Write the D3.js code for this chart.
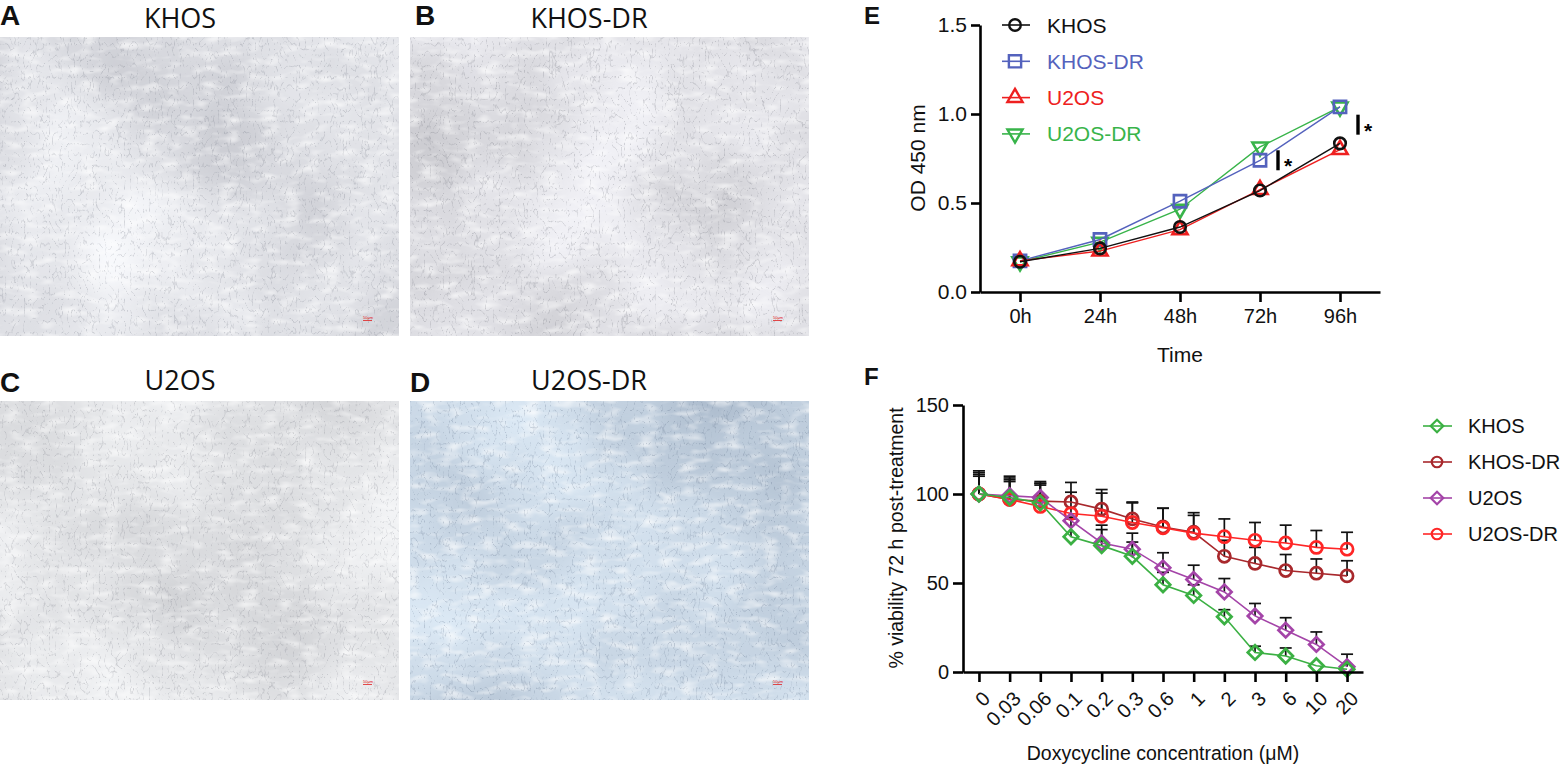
<!DOCTYPE html>
<html><head><meta charset="utf-8">
<script src="https://cdn.jsdelivr.net/npm/d3@7"></script>
<style>
html,body{margin:0;padding:0;background:#fff;}
svg{display:block;}
text{font-family:"Liberation Sans",Arial,sans-serif;}
</style></head>
<body>
<script>
// ---------- DATA ----------
const panelTitles = ["KHOS","KHOS-DR","U2OS","U2OS-DR"];
const panelLetters = ["A","B","C","D"];

const eTimes = ["0h","24h","48h","72h","96h"];
const eSeriesNames = ["KHOS","KHOS-DR","U2OS","U2OS-DR"];
const eKHOS   = [0.17, 0.245, 0.365, 0.57, 0.835];
const eKHOSDR = [0.175, 0.295, 0.51, 0.74, 1.04];
const eU2OS   = [0.175, 0.23, 0.35, 0.575, 0.80];
const eU2OSDR = [0.17, 0.28, 0.465, 0.815, 1.04];
const eYTicks = [0, 0.5, 1.0, 1.5];
const eSigTimes = ["72h","96h"];
const eSigLevel = [0.74, 0.94];   // vertical centre of the significance bars

const fConc = ["0","0.03","0.06","0.1","0.2","0.3","0.6","1","2","3","6","10","20"];
const fSeriesNames = ["KHOS","KHOS-DR","U2OS","U2OS-DR"];
const fKHOS      = [100, 98, 95, 76, 71, 65, 49, 43, 31, 11, 9, 3.5, 1.5];
const fKHOSErr   = [11, 9, 10, 10, 9, 8, 7, 6, 4, 3.5, 4.5, 0, 0];
const fKHOSDR    = [100, 97, 96, 95.5, 91.5, 86, 81.5, 78.5, 65, 61, 57, 55.5, 54];
const fKHOSDRErr = [13, 11, 11, 11, 11, 9.5, 10.5, 11, 9, 9, 9, 8, 8.5];
const fU2OS      = [100, 99, 98, 85, 72.5, 69, 58.5, 52, 45, 31.5, 23.5, 15.5, 3];
const fU2OSErr   = [12, 11, 8, 2, 10, 9, 8.5, 8, 7.5, 7, 7, 7, 7];
const fU2OSDR    = [100, 97, 93, 89, 87.5, 84, 81, 78, 76, 74, 72.5, 70, 69];
const fU2OSDRErr = [10, 12, 13, 12, 13, 11, 11, 10, 10, 10, 10, 9.5, 9.5];
const fYTicks = [0, 50, 100, 150];

// ---------- SETUP ----------
const svg = d3.select("body").append("svg").attr("width",1567).attr("height",768);
const defs = svg.append("defs");

function micFilter(id, seed, base, gain, cellCol){
  const f = defs.append("filter").attr("id",id).attr("x",0).attr("y",0).attr("width",1).attr("height",1)
    .attr("color-interpolation-filters","sRGB");
  f.append("feTurbulence").attr("type","fractalNoise").attr("baseFrequency","0.006")
    .attr("numOctaves",3).attr("seed",seed).attr("result","low");
  f.append("feColorMatrix").attr("in","low").attr("type","matrix")
    .attr("values",`${gain[0]} 0 0 0 ${base[0]}  ${gain[1]} 0 0 0 ${base[1]}  ${gain[2]} 0 0 0 ${base[2]}  0 0 0 0 1`)
    .attr("result","bg");
  f.append("feTurbulence").attr("type","turbulence").attr("baseFrequency","0.16 0.09")
    .attr("numOctaves",2).attr("seed",seed+7).attr("result","hi");
  f.append("feColorMatrix").attr("in","hi").attr("type","matrix")
    .attr("values",`0 0 0 0 ${cellCol[0]}  0 0 0 0 ${cellCol[1]}  0 0 0 0 ${cellCol[2]}  -2.0 0 0 0 0.26`)
    .attr("result","cells");
  f.append("feTurbulence").attr("type","fractalNoise").attr("baseFrequency","0.05 0.12")
    .attr("numOctaves",2).attr("seed",seed+13).attr("result","hl");
  f.append("feColorMatrix").attr("in","hl").attr("type","matrix")
    .attr("values","0 0 0 0 1  0 0 0 0 1  0 0 0 0 1  1.6 0 0 0 -0.75")
    .attr("result","white");
  f.append("feComposite").attr("in","white").attr("in2","bg").attr("operator","over").attr("result","bg2");
  f.append("feComposite").attr("in","cells").attr("in2","bg2").attr("operator","over");
}
micFilter("micA", 3, [0.74,0.745,0.775], [0.26,0.26,0.24], [0.45,0.47,0.52]);
micFilter("micB", 11, [0.73,0.73,0.75], [0.28,0.28,0.28], [0.42,0.43,0.47]);
micFilter("micC", 19, [0.77,0.775,0.79], [0.24,0.24,0.23], [0.47,0.48,0.52]);
micFilter("micD", 27, [0.66,0.72,0.79], [0.26,0.25,0.22], [0.35,0.42,0.52]);

// ---------- MICROSCOPY PANELS ----------
const imgBoxes = [
  {x:0,   y:37,  w:399, h:299, f:"micA", tx:180, ty:28, lx:0,   ly:25},
  {x:410, y:37,  w:399, h:299, f:"micB", tx:589, ty:28, lx:415, ly:25},
  {x:0,   y:401, w:399, h:299, f:"micC", tx:180, ty:390, lx:0,  ly:392},
  {x:410, y:401, w:399, h:299, f:"micD", tx:589, ty:390, lx:410, ly:392}
];
imgBoxes.forEach((b,i)=>{
  svg.append("rect").attr("x",b.x).attr("y",b.y).attr("width",b.w).attr("height",b.h)
    .attr("fill","#dcdde2").attr("filter",`url(#${b.f})`);
  svg.append("text").attr("x",b.tx).attr("y",b.ty).attr("text-anchor","middle")
    .style("font-family","'Open Sans',sans-serif").style("font-size","27px").attr("fill","#111")
    .text(panelTitles[i]);
  svg.append("text").attr("x",b.lx).attr("y",b.ly)
    .style("font-size","28px").style("font-weight","bold").attr("fill","#111").text(panelLetters[i]);
  svg.append("text").attr("x",b.x+b.w-36).attr("y",b.y+b.h-17).style("font-size","4px").attr("fill","#e02020").text("50μm");
  svg.append("line").attr("x1",b.x+b.w-36).attr("x2",b.x+b.w-27).attr("y1",b.y+b.h-15.5).attr("y2",b.y+b.h-15.5)
    .attr("stroke","#e02020").attr("stroke-width",0.8);
});

// ---------- helpers ----------
function styleAxis(g, fs){
  g.selectAll("path.domain").attr("stroke","#000").attr("stroke-width",2.6);
  g.selectAll(".tick line").attr("stroke","#000").attr("stroke-width",2.6);
  g.selectAll(".tick text").attr("fill","#111").style("font-size",fs+"px")
    .style("font-family","'Liberation Sans',Arial,sans-serif");
}
const symDown = { draw(ctx, size){ const s=Math.sqrt(size*4/Math.sqrt(3)); const h=s*Math.sqrt(3)/2;
  ctx.moveTo(0,h*2/3); ctx.lineTo(s/2,-h/3); ctx.lineTo(-s/2,-h/3); ctx.closePath(); } };
const symUp = { draw(ctx, size){ const s=Math.sqrt(size*4/Math.sqrt(3)); const h=s*Math.sqrt(3)/2;
  ctx.moveTo(0,-h*2/3); ctx.lineTo(s/2,h/3); ctx.lineTo(-s/2,h/3); ctx.closePath(); } };
const symDiamond = { draw(ctx,size){ const r=Math.sqrt(size)/Math.SQRT2;
  ctx.moveTo(0,-r); ctx.lineTo(r,0); ctx.lineTo(0,r); ctx.lineTo(-r,0); ctx.closePath(); } };

// ---------- PANEL E ----------
const gE = svg.append("g");
const xE = d3.scalePoint().domain(eTimes).range([980,1380]).padding(0.5);
const yE = d3.scaleLinear().domain([0,1.5]).range([292,25]);

const axYE = gE.append("g").attr("transform","translate(980,0)")
  .call(d3.axisLeft(yE).tickValues(eYTicks).tickFormat(d3.format(".1f")).tickSize(9).tickSizeOuter(0).tickPadding(4));
styleAxis(axYE, 21);
const axXE = gE.append("g").attr("transform","translate(0,292)")
  .call(d3.axisBottom(xE).tickSize(10).tickSizeOuter(0).tickPadding(7));
styleAxis(axXE, 20);

gE.append("text").attr("transform","translate(925,158) rotate(-90)").attr("text-anchor","middle")
  .style("font-size","21px").attr("fill","#111").text("OD 450 nm");
gE.append("text").attr("x",1180).attr("y",362).attr("text-anchor","middle")
  .style("font-size","21px").attr("fill","#111").text("Time");
gE.append("text").attr("x",864).attr("y",24).style("font-size","24px").style("font-weight","bold").attr("fill","#111").text("E");

const eSeries = [
  {name:eSeriesNames[0], vals:eKHOS,   color:"#111111", sym:d3.symbolCircle, size:105, text:"#111"},
  {name:eSeriesNames[1], vals:eKHOSDR, color:"#5462bd", sym:d3.symbolSquare, size:150, text:"#5462bd"},
  {name:eSeriesNames[2], vals:eU2OS,   color:"#ee2020", sym:symUp, size:100, text:"#ee2020"},
  {name:eSeriesNames[3], vals:eU2OSDR, color:"#38b44a", sym:symDown, size:100, text:"#38b44a"}
];
const lineE = d3.line().x((d,i)=>xE(eTimes[i])).y(d=>yE(d));
[3,1,2,0].forEach(k=>{
  const s=eSeries[k];
  gE.append("path").attr("d",lineE(s.vals)).attr("fill","none").attr("stroke",s.color).attr("stroke-width",1.4);
  gE.selectAll(null).data(s.vals).enter().append("path")
    .attr("transform",(d,i)=>`translate(${xE(eTimes[i])},${yE(d)})`)
    .attr("d",d3.symbol().type(s.sym).size(s.size))
    .attr("fill","none").attr("stroke",s.color).attr("stroke-width",2.6);
});
// legend E
eSeries.forEach((s,i)=>{
  const y = 25 + i*36.3;
  gE.append("line").attr("x1",1002).attr("x2",1030).attr("y1",y).attr("y2",y).attr("stroke",s.color).attr("stroke-width",1.6);
  gE.append("path").attr("transform",`translate(1015,${y})`).attr("d",d3.symbol().type(s.sym).size(s.size))
    .attr("fill","none").attr("stroke",s.color).attr("stroke-width",2.4);
  gE.append("text").attr("x",1047).attr("y",y).attr("dy","0.36em").style("font-size","21px").attr("fill",s.text).text(s.name);
});
// significance markers
eSigTimes.forEach((t,i)=>{
  const x = xE(t) + 18;
  const ym = yE(eSigLevel[i]);
  gE.append("line").attr("x1",x).attr("x2",x).attr("y1",ym-10).attr("y2",ym+10).attr("stroke","#000").attr("stroke-width",3.4);
  gE.append("text").attr("x",x+6).attr("y",ym+13).style("font-size","21px").style("font-weight","bold").attr("fill","#000").text("*");
});

// ---------- PANEL F ----------
const gF = svg.append("g");
const xF = d3.scalePoint().domain(fConc).range([963,1363]).padding(0.52);
const yF = d3.scaleLinear().domain([0,150]).range([672,405]);

gF.append("text").attr("x",864).attr("y",385).style("font-size","24px").style("font-weight","bold").attr("fill","#111").text("F");

const fSeries = [
  {name:fSeriesNames[0], vals:fKHOS,   err:fKHOSErr,   color:"#3bb043", sym:symDiamond, size:105},
  {name:fSeriesNames[1], vals:fKHOSDR, err:fKHOSDRErr, color:"#a8282c", sym:d3.symbolCircle, size:115},
  {name:fSeriesNames[2], vals:fU2OS,   err:fU2OSErr,   color:"#a444a8", sym:symDiamond, size:105},
  {name:fSeriesNames[3], vals:fU2OSDR, err:fU2OSDRErr, color:"#ff2626", sym:d3.symbolCircle, size:115}
];
// error bars
fSeries.forEach(s=>{
  s.vals.forEach((v,i)=>{
    if(!s.err[i]) return;
    const x=xF(fConc[i]), y0=yF(v), y1=yF(v+s.err[i]);
    gF.append("line").attr("x1",x).attr("x2",x).attr("y1",y0).attr("y2",y1).attr("stroke","#111").attr("stroke-width",1.7);
    gF.append("line").attr("x1",x-6).attr("x2",x+6).attr("y1",y1).attr("y2",y1).attr("stroke","#111").attr("stroke-width",1.7);
  });
});
const lineF = d3.line().x((d,i)=>xF(fConc[i])).y(d=>yF(d));
[1,3,2,0].forEach(k=>{
  const s=fSeries[k];
  gF.append("path").attr("d",lineF(s.vals)).attr("fill","none").attr("stroke",s.color).attr("stroke-width",1.6);
  gF.selectAll(null).data(s.vals).enter().append("path")
    .attr("transform",(d,i)=>`translate(${xF(fConc[i])},${yF(d)})`)
    .attr("d",d3.symbol().type(s.sym).size(s.size))
    .attr("fill","none").attr("stroke",s.color).attr("stroke-width",2.7);
});

const axYF = gF.append("g").attr("transform","translate(963,0)")
  .call(d3.axisLeft(yF).tickValues(fYTicks).tickFormat(d3.format("d")).tickSize(10).tickSizeOuter(0).tickPadding(4));
styleAxis(axYF, 20);
const axXF = gF.append("g").attr("transform","translate(0,672)")
  .call(d3.axisBottom(xF).tickSize(10).tickSizeOuter(0));
styleAxis(axXF, 20);
axXF.selectAll(".tick text").attr("text-anchor","end").attr("dy","0.35em")
  .attr("transform","translate(7,23) rotate(-45)").attr("y",0).attr("x",0);

gF.append("text").attr("transform","translate(903,538) rotate(-90)").attr("text-anchor","middle")
  .style("font-size","19.5px").attr("fill","#111").text("% viability 72 h post-treatment");
gF.append("text").attr("x",1163).attr("y",760).attr("text-anchor","middle")
  .style("font-size","19.5px").attr("fill","#111").text("Doxycycline concentration (μM)");

// legend F
fSeries.forEach((s,i)=>{
  const y = 426 + i*36;
  gF.append("line").attr("x1",1423).attr("x2",1452).attr("y1",y).attr("y2",y).attr("stroke",s.color).attr("stroke-width",1.6);
  gF.append("path").attr("transform",`translate(1437,${y})`).attr("d",d3.symbol().type(s.sym).size(s.size*0.75))
    .attr("fill","none").attr("stroke",s.color).attr("stroke-width",2.2);
  gF.append("text").attr("x",1468).attr("y",y).attr("dy","0.36em").style("font-size","20px").attr("fill","#111").text(s.name);
});
</script>
</body></html>
